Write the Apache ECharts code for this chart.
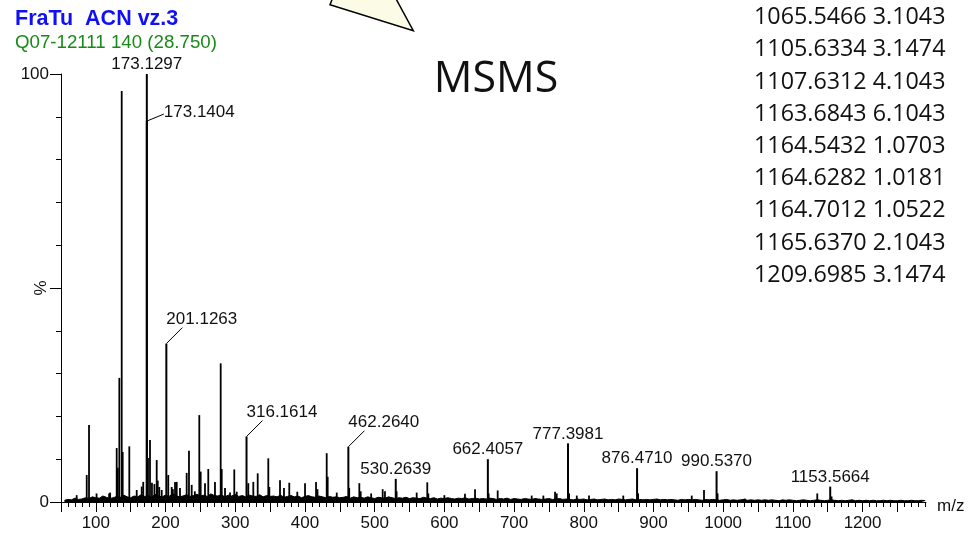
<!DOCTYPE html>
<html>
<head>
<meta charset="utf-8">
<script src="https://cdn.jsdelivr.net/npm/echarts@6/dist/echarts.min.js"></script>
<style>
  html, body { margin: 0; padding: 0; background: #ffffff; }
  #main { width: 974px; height: 533px; }
</style>
</head>
<body>
<div id="main"></div>
<script>
// Annotated peaks: m/z and relative intensity (%)
const labelledMz  = [173.1297, 173.1404, 201.1263, 316.1614, 462.2640, 530.2639, 662.4057, 777.3981, 876.4710, 990.5370, 1153.5664];
const labelledInt = [100, 89, 37, 15.3, 12.9, 5.4, 10.0, 13.7, 7.9, 7.2, 3.6];

// Remaining resolved peaks
const peakMz = [72.5, 86.9, 90.2, 101, 119, 120.5, 129.9, 131.5, 133.7, 137.1, 138.5, 148, 158.6, 165.8, 168,
  174.8, 177.7, 180.5, 184, 187.3, 188.8, 191, 194.5, 203.9, 208.8, 210.5, 213.6, 216, 220.7, 230.3, 233.6,
  237.5, 242, 248.4, 250.4, 256.6, 261.3, 270.9, 279.1, 280.6, 285.3, 292.5, 298.6, 302.1, 318.7, 325.9,
  332.2, 347.4, 348.9, 364.2, 369.9, 377.5, 389, 400.1, 415.9, 418, 431.2, 432.6, 445.6, 463.5, 478, 480,
  495, 511.5, 514.8, 531.5, 560.3, 575.5, 577, 600, 629.6, 644, 663.5, 676.5, 725.3, 742, 758.8, 761.2,
  779, 790, 807.5, 856.7, 878, 954.9, 972.5, 992, 1031, 1135, 1155.5];
const peakInt = [1.6, 6.3, 18, 2, 2, 2.2, 12.6, 8, 29, 96, 11.7, 13, 2.8, 3.6, 4.7,
  10.3, 14.5, 4.5, 4.2, 9.8, 5, 3.5, 2.8, 6.3, 3.5, 3, 4.7, 4.7, 3.3, 6.8, 12,
  4, 2.5, 20.3, 7.1, 4.4, 7.7, 4.7, 32.4, 7.7, 3.3, 2.2, 7.6, 2.4, 4.4, 4.7,
  6.7, 10.2, 3.5, 5.1, 3.3, 4.5, 2.4, 4.4, 4.7, 3, 11.4, 5.9, 2.2, 3.3, 4.4, 2.5,
  2, 3, 2.5, 2.5, 2.2, 4.6, 2, 1.6, 1.9, 3, 2, 2.7, 1.5, 1.5, 2.4, 2,
  2, 1.5, 1.5, 1.5, 2, 1.5, 2.8, 2, 0.8, 2, 1.3];

// Baseline noise level (%), one reading every 5 m/z from 55 to 1290
const noiseStartMz = 55;
const noiseStepMz = 5;
const noiseInt = [
  0.4,0.6,0.5,0.9,0.6,0.7,1.0,0.8,1.2,1.0,0.9,1.4,1.1,0.8,1.0,1.3,1.1,1.6,1.2,1.0,
  1.4,1.2,1.7,1.3,1.5,1.1,1.8,1.4,1.2,1.6,1.3,1.9,1.5,1.2,1.4,1.7,1.3,1.5,1.8,1.4,
  1.6,1.3,1.9,1.5,1.4,1.7,1.2,1.6,1.4,1.8,1.3,1.5,1.2,1.6,1.4,1.3,1.7,1.2,1.5,1.3,
  1.4,1.2,1.6,1.1,1.3,1.5,1.2,1.4,1.0,1.3,1.5,1.2,1.1,1.4,1.2,1.0,1.3,1.1,1.2,1.0,
  1.1,1.3,0.9,1.2,1.0,1.1,0.9,1.2,1.0,0.8,1.1,1.0,0.9,1.2,1.0,0.8,1.0,0.9,1.1,0.8,
  1.0,0.9,0.8,1.1,0.9,0.8,1.0,0.7,0.9,0.8,1.0,0.8,0.7,0.9,0.8,1.0,0.7,0.8,0.9,0.7,
  0.8,0.7,0.9,0.8,0.6,0.8,0.7,0.9,0.6,0.8,0.7,0.6,0.8,0.7,0.6,0.8,0.7,0.6,0.7,0.8,
  0.6,0.7,0.8,0.6,0.7,0.6,0.5,0.7,0.6,0.7,0.5,0.6,0.7,0.5,0.6,0.7,0.5,0.6,0.5,0.7,
  0.6,0.5,0.6,0.7,0.5,0.6,0.5,0.6,0.5,0.6,0.7,0.5,0.6,0.5,0.6,0.5,0.4,0.6,0.5,0.6,
  0.5,0.6,0.5,0.4,0.6,0.5,0.6,0.5,0.4,0.5,0.6,0.4,0.5,0.4,0.5,0.6,0.4,0.5,0.4,0.5,
  0.4,0.5,0.4,0.5,0.4,0.3,0.5,0.4,0.5,0.4,0.3,0.4,0.5,0.4,0.3,0.4,0.5,0.4,0.3,0.4,
  0.5,0.4,0.3,0.4,0.3,0.4,0.5,0.3,0.4,0.3,0.4,0.3,0.4,0.3,0.3,0.4,0.3,0.4,0.3,0.3,
  0.4,0.3,0.3,0.4,0.3,0.3,0.4,0.3
];

// Axis ticks and labels
const xRange = [50, 1291];
const xMinorTicks = [];
for (let v = 50; v <= 1290; v += 10) xMinorTicks.push(v);
const xMajorTicks = [];
for (let v = 50; v <= 1250; v += 50) xMajorTicks.push(v);
const xTickLabels = [100, 200, 300, 400, 500, 600, 700, 800, 900, 1000, 1100, 1200];
const yTickLabels = [0, 100];

// Text blocks
const titleText = 'FraTu  ACN vz.3';
const subtitleText = 'Q07-12111 140 (28.750)';
const modeText = 'MSMS';
const xAxisTitle = 'm/z';
const fragmentList = [
  '1065.5466 3.1043',
  '1105.6334 3.1474',
  '1107.6312 4.1043',
  '1163.6843 6.1043',
  '1164.5432 1.0703',
  '1164.6282 1.0181',
  '1164.7012 1.0522',
  '1165.6370 2.1043',
  '1209.6985 3.1474'
];

// How each annotation sits relative to its peak
const labelPlacement = ['above', 'flat', 'leader', 'leader', 'leader', 'above', 'above', 'above', 'above', 'above', 'above'];

const FONT = '"Liberation Sans", Arial, sans-serif';
const labelFont = '17px ' + FONT;

const peakData = peakMz.map((m, i) => [m, peakInt[i]]);
const labelledData = labelledMz.map((m, i) => [m, labelledInt[i]]);
const noiseData = noiseInt.map((v, i) => [noiseStartMz + i * noiseStepMz, v]);

function stickRenderer(width) {
  return function (params, api) {
    const base = api.coord([api.value(0), 0]);
    const top = api.coord([api.value(0), api.value(1)]);
    return {
      type: 'line',
      shape: { x1: base[0], y1: base[1], x2: top[0], y2: top[1] },
      style: { stroke: '#000', lineWidth: width }
    };
  };
}

function labelRenderer(params, api) {
  const i = params.dataIndex;
  const p = api.coord([api.value(0), api.value(1)]);
  const txt = labelledMz[i].toFixed(4);
  const kind = labelPlacement[i];
  const children = [];
  if (kind === 'above') {
    children.push({ type: 'text', x: p[0], y: p[1] - 9.5,
      style: { text: txt, font: labelFont, fill: '#111', align: 'center', verticalAlign: 'middle' } });
  } else if (kind === 'flat') {
    children.push({ type: 'line', shape: { x1: p[0], y1: p[1], x2: p[0] + 17, y2: p[1] - 7 },
      style: { stroke: '#000', lineWidth: 1 } });
    children.push({ type: 'text', x: p[0] + 17, y: p[1] - 9,
      style: { text: txt, font: labelFont, fill: '#111', align: 'left', verticalAlign: 'middle' } });
  } else {
    children.push({ type: 'line', shape: { x1: p[0], y1: p[1], x2: p[0] + 16, y2: p[1] - 16 },
      style: { stroke: '#000', lineWidth: 1 } });
    children.push({ type: 'text', x: p[0], y: p[1] - 24,
      style: { text: txt, font: labelFont, fill: '#111', align: 'left', verticalAlign: 'middle' } });
  }
  return { type: 'group', children };
}

const chart = echarts.init(document.getElementById('main'), null, { renderer: 'canvas' });

const axisLineStyle = { color: '#000', width: 1 };

chart.setOption({
  animation: false,
  backgroundColor: '#ffffff',
  grid: { left: 61, right: 48, top: 74, bottom: 31 },
  xAxis: [
    {
      type: 'value', min: xRange[0], max: xRange[1],
      axisLine: { show: true, lineStyle: axisLineStyle },
      axisTick: { show: true, length: 5, customValues: xMinorTicks, lineStyle: axisLineStyle },
      axisLabel: { show: false },
      splitLine: { show: false }
    },
    {
      type: 'value', min: xRange[0], max: xRange[1], position: 'bottom',
      axisLine: { show: false },
      axisTick: { show: true, length: 10, customValues: xMajorTicks, lineStyle: axisLineStyle },
      axisLabel: { show: true, customValues: xTickLabels, margin: 13,
        formatter: v => String(v),
        fontFamily: FONT, fontSize: 17, color: '#111' },
      splitLine: { show: false }
    }
  ],
  yAxis: [
    {
      type: 'value', min: 0, max: 100, interval: 10,
      axisLine: { show: true, lineStyle: axisLineStyle },
      axisTick: { show: true, length: 5, lineStyle: axisLineStyle },
      axisLabel: { show: false },
      splitLine: { show: false },
      name: '%', nameLocation: 'middle', nameGap: 11, nameRotate: 90,
      nameTextStyle: { fontFamily: FONT, fontSize: 17, color: '#111' }
    },
    {
      type: 'value', min: 0, max: 100, position: 'left',
      axisLine: { show: false },
      axisTick: { show: true, length: 11, customValues: [0, 50, 100], lineStyle: axisLineStyle },
      axisLabel: { show: true, customValues: yTickLabels, margin: 12,
        formatter: v => String(v),
        fontFamily: FONT, fontSize: 17, color: '#111' },
      splitLine: { show: false }
    }
  ],
  series: [
    {
      type: 'line', name: 'baseline', data: noiseData, showSymbol: false, symbol: 'none',
      lineStyle: { color: '#000', width: 1 },
      areaStyle: { color: '#000', opacity: 1 },
      silent: true, z: 2
    },
    {
      type: 'custom', name: 'peaks', data: peakData, encode: { x: 0, y: 1 },
      renderItem: stickRenderer(1.8), z: 3
    },
    {
      type: 'custom', name: 'labelled', data: labelledData, encode: { x: 0, y: 1 },
      renderItem: stickRenderer(2), z: 4
    },
    {
      type: 'custom', name: 'annotations', data: labelledData, encode: { x: 0, y: 1 },
      renderItem: labelRenderer, clip: false, z: 5
    }
  ],
  graphic: [
    {
      type: 'polygon', z: 10,
      shape: { points: [[333, -3], [330, 4.7], [413.3, 30.7], [395, -3]] },
      style: { fill: '#fcfce6', stroke: '#000', lineWidth: 1.5 }
    },
    { type: 'text', x: 15, y: 19, z: 10,
      style: { text: titleText, font: 'bold 21.5px ' + FONT, fill: '#1010f5', align: 'left', verticalAlign: 'middle' } },
    { type: 'text', x: 15, y: 43, z: 10,
      style: { text: subtitleText, font: '18.7px ' + FONT, fill: '#178a17', align: 'left', verticalAlign: 'middle' } },
    { type: 'text', x: 496, y: 80, z: 10,
      style: { text: modeText, font: '43px "Open Sans", sans-serif', fill: '#111', align: 'center', verticalAlign: 'middle' } },
    { type: 'text', x: 937, y: 506, z: 10,
      style: { text: xAxisTitle, font: '17px ' + FONT, fill: '#111', align: 'left', verticalAlign: 'middle' } }
  ].concat(fragmentList.map((t, i) => ({
    type: 'text', x: 754, y: 17.5 + 32.2 * i, z: 10,
    style: { text: t, font: '23.3px "Open Sans", sans-serif', fill: '#111', align: 'left', verticalAlign: 'middle' }
  })))
});
</script>
</body>
</html>
